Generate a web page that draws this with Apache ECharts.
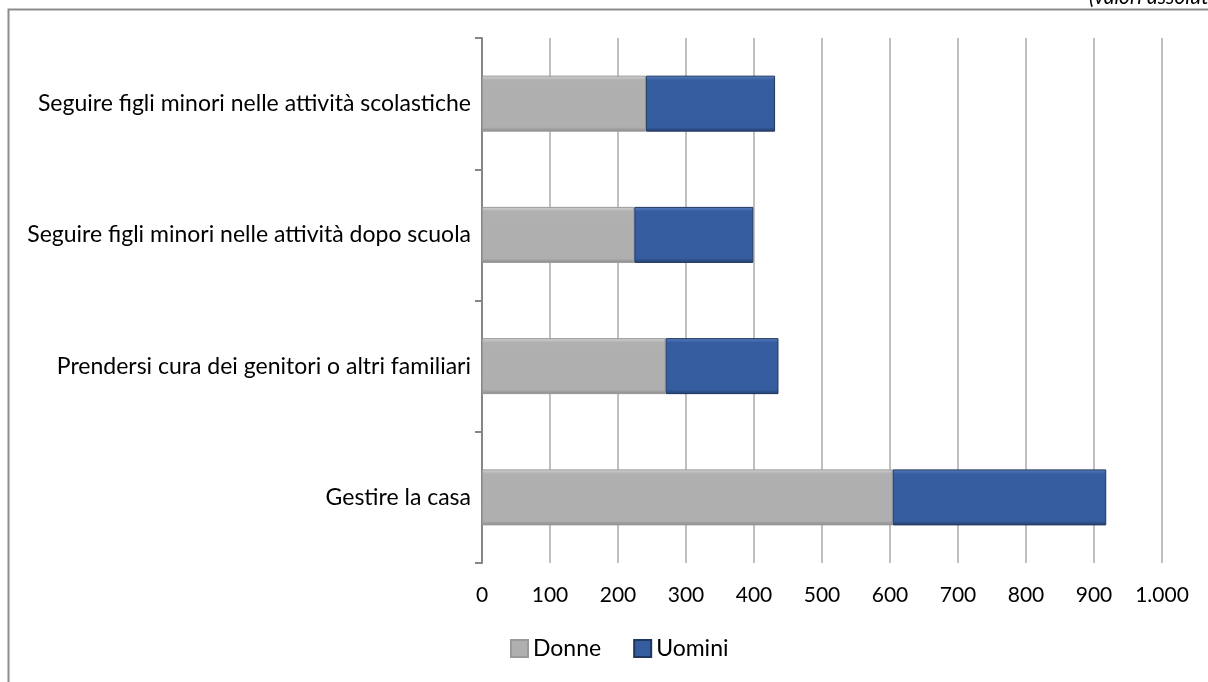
<!DOCTYPE html>
<html>
<head>
<meta charset="utf-8">
<script src="https://cdn.jsdelivr.net/npm/echarts@6/dist/echarts.min.js"></script>
<style>
  html, body { margin: 0; padding: 0; background: #fff; }
  #chart { width: 1208px; height: 682px; }
</style>
</head>
<body>
<div id="chart"></div>
<script>
// categorie dal basso verso l'alto (come nel grafico originale)
const categories = [
  'Gestire la casa',
  'Prendersi cura dei genitori o altri familiari',
  'Seguire figli minori nelle attività dopo scuola',
  'Seguire figli minori nelle attività scolastiche'
]
const donne = [604, 270, 224, 241]
const uomini = [314, 166, 175, 190]
const seriesNames = ['Donne', 'Uomini']

const chart = echarts.init(document.getElementById('chart'))

const font = 'Lato, "Open Sans", sans-serif'

const option = {
  animation: false,
  textStyle: { fontFamily: font },
  graphic: [
    {
      type: 'rect',
      shape: { x: 8.5, y: 9.5, width: 1220, height: 700 },
      style: { fill: 'none', stroke: '#8c8c8c', lineWidth: 2 }
    },
    {
      type: 'text',
      left: 1089,
      top: -13,
      style: {
        text: '(valori assoluti)',
        font: 'italic 21px ' + font,
        fill: '#000'
      }
    }
  ],
  grid: {
    left: 482,
    right: 46,
    top: 38,
    bottom: 119
  },
  legend: {
    data: seriesNames,
    left: 505,
    top: 632,
    itemWidth: 17,
    itemHeight: 17,
    itemGap: 32,
    icon: 'rect',
    textStyle: { fontSize: 23, color: '#000', fontFamily: font }
  },
  xAxis: {
    type: 'value',
    min: 0,
    max: 1000,
    interval: 100,
    axisLine: { show: false },
    axisTick: { show: false },
    splitLine: { lineStyle: { color: '#c0c0c0', width: 2 } },
    axisLabel: {
      fontSize: 21,
      color: '#000',
      margin: 22,
      formatter: v => v === 1000 ? '1.000' : String(v)
    }
  },
  yAxis: {
    type: 'category',
    data: categories,
    axisLine: { show: true, lineStyle: { color: '#868686', width: 2 } },
    axisTick: { show: true, length: 7, lineStyle: { color: '#868686', width: 2 } },
    axisLabel: { fontSize: 23, color: '#000', margin: 11 }
  },
  series: [
    {
      name: 'Donne',
      type: 'bar',
      stack: 'tot',
      barWidth: 56,
      data: donne,
      itemStyle: {
        color: new echarts.graphic.LinearGradient(0, 0, 0, 1, [
          { offset: 0, color: '#d4d4d4' },
          { offset: 0.08, color: '#b0b0b0' },
          { offset: 0.92, color: '#afafaf' },
          { offset: 1, color: '#8a8a8a' }
        ]),
        borderColor: '#9a9a9a',
        borderWidth: 1
      }
    },
    {
      name: 'Uomini',
      type: 'bar',
      stack: 'tot',
      barWidth: 56,
      data: uomini,
      itemStyle: {
        color: new echarts.graphic.LinearGradient(0, 0, 0, 1, [
          { offset: 0, color: '#5a80c0' },
          { offset: 0.08, color: '#355d9f' },
          { offset: 0.92, color: '#345c9e' },
          { offset: 1, color: '#243f6e' }
        ]),
        borderColor: '#1f365e',
        borderWidth: 1
      }
    }
  ]
}

chart.setOption(option)
</script>
</body>
</html>
